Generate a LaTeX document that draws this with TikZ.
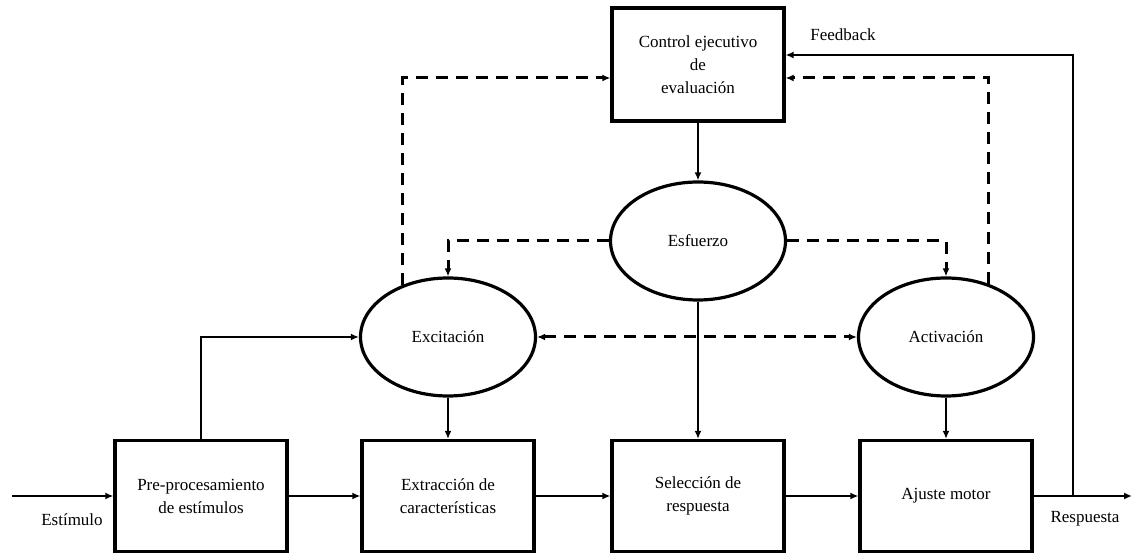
\documentclass[tikz,border=0pt]{standalone}
\usepackage{fontspec}
\setmainfont{Liberation Serif}
\usetikzlibrary{arrows.meta,shapes.geometric}

\begin{document}
\begin{tikzpicture}[x=0.5pt,y=-0.5pt,font=\fontsize{8.5}{11.5}\selectfont,>={Latex[length=4pt,width=3.5pt]},
  blk/.style={draw,line width=1.6pt,minimum width=86pt,minimum height=55.5pt,align=center,inner sep=0pt},
  elp/.style={draw,ellipse,line width=1.6pt,minimum width=87.5pt,minimum height=59pt,inner sep=0pt},
  ln/.style={line width=1.4pt},
  dsh/.style={line width=1.5pt,dash pattern=on 6pt off 4pt}]
\useasboundingbox (0,0) rectangle (1132,555);
% upper part
\node[blk,minimum height=56.5pt] (ctrl) at (698,64.5) {Control ejecutivo\\de\\evaluación};
\node[elp] (esf) at (698,241) {Esfuerzo};
\node[elp] (exc) at (448,337) {Excitación};
\node[elp] (act) at (946,337) {Activación};
% processing chain
\node[blk] (pre) at (201,496) {Pre-procesamiento\\de estímulos};
\node[blk] (ext) at (448,496) {Extracción de\\características};
\node[blk] (sel) at (698,496) {Selección de\\respuesta};
\node[blk] (aju) at (946,496) {Ajuste motor};
\coordinate (in) at (12,496);
\coordinate (out) at (1132,496);
\coordinate (fb) at (1073,496);
\node (stim) at (72,520) {Estímulo};
\node (resp) at (1085,519) {Respuesta};
\node (fbl) at (843,35) {Feedback};
\foreach \a/\b in {in/pre,pre/ext,ext/sel,sel/aju,aju/out}{\draw[ln,->] (\a) -- (\b);}
\foreach \a/\b in {ctrl/esf,esf/sel,exc/ext,act/aju}{\draw[ln,->] (\a.south) -- (\b.north);}
\draw[ln,->] (pre.north) |- (exc.west);
\draw[ln,->] (fb) |- ([yshift=4.75pt]ctrl.east);
% dashed links
\draw[dsh,->] (exc.131) |- ([yshift=-6.75pt]ctrl.west);
\draw[dsh,->] (act.51.5) |- ([yshift=-6.75pt]ctrl.east);
\draw[dsh,->] (esf.west) -| (exc.north);
\draw[dsh,->] (esf.east) -| (act.north);
\draw[dsh,<->] (exc.east) -- (act.west);
\end{tikzpicture}
\end{document}
